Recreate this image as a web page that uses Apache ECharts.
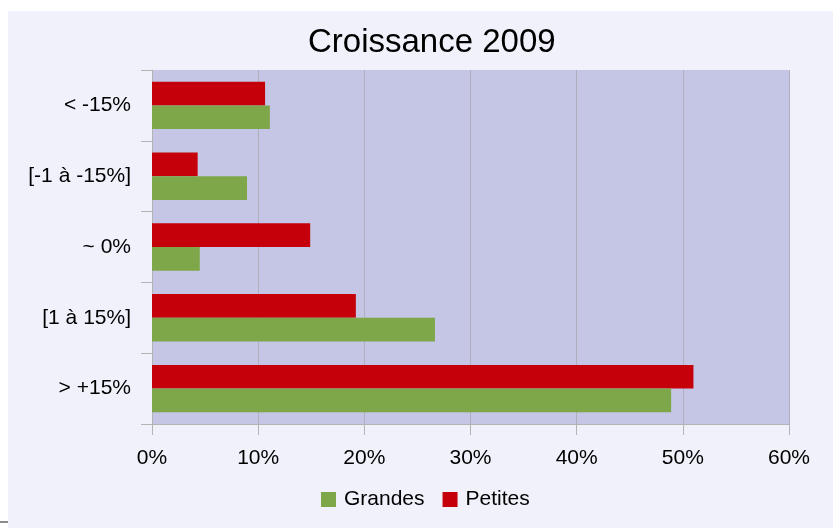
<!DOCTYPE html>
<html lang="fr">
<head>
<meta charset="UTF-8">
<title>Croissance 2009</title>
<style>
  html, body { margin: 0; padding: 0; background: #ffffff; }
  #chart { width: 833px; height: 528px; }
</style>
<script src="https://cdn.jsdelivr.net/npm/echarts@6/dist/echarts.min.js"></script>
</head>
<body>
<div id="chart"></div>
<script>
// categories, top to bottom
var categories = ['< -15%', '[-1 à -15%]', '~ 0%', '[1 à 15%]', '> +15%'];
// values in %
var grandes = [11.1, 8.95, 4.5, 26.65, 48.9];
var petites = [10.65, 4.3, 14.9, 19.2, 51.0];

var dom = document.getElementById('chart');
var myChart = echarts.init(dom);

var font = '"Liberation Sans", Arial, sans-serif';

var option = {
    backgroundColor: '#ffffff',
    animation: false,
    graphic: [
        {   // chart body
            type: 'rect', z: -10, silent: true,
            shape: { x: 8, y: 11, width: 825, height: 517 },
            style: { fill: '#f1f1fc' }
        },
        {   // little grey mark bottom left
            type: 'rect', z: -10, silent: true,
            shape: { x: 0, y: 521, width: 8, height: 2 },
            style: { fill: '#8c8c8c' }
        }
    ],
    title: {
        text: 'Croissance 2009',
        left: 303,
        top: 21,
        textStyle: { fontFamily: font, fontSize: 33, fontWeight: 'normal', color: '#000000' }
    },
    legend: {
        data: ['Grandes', 'Petites'],
        bottom: 13,
        left: 316,
        icon: 'rect',
        itemWidth: 15,
        itemHeight: 15,
        itemGap: 18,
        textStyle: { fontFamily: font, fontSize: 21, color: '#000000', padding: [0, 0, 0, 3] }
    },
    grid: {
        left: 152,
        right: 44,
        top: 70,
        bottom: 104,
        show: true,
        backgroundColor: '#c5c6e6',
        borderWidth: 0
    },
    xAxis: {
        type: 'value',
        min: 0,
        max: 60,
        interval: 10,
        axisLine: { show: true, lineStyle: { color: '#b4b4b4', width: 1 } },
        axisTick: { show: true, length: 11, lineStyle: { color: '#b4b4b4' } },
        splitLine: { show: true, lineStyle: { color: '#b0b0bc', width: 1 } },
        axisLabel: {
            margin: 24,
            fontFamily: font, fontSize: 21, color: '#000000',
            formatter: '{value}%'
        }
    },
    yAxis: {
        type: 'category',
        data: categories,
        inverse: true,
        axisLine: { show: true, lineStyle: { color: '#b4b4b4', width: 1 } },
        axisTick: { show: true, length: 11, lineStyle: { color: '#b4b4b4' } },
        axisLabel: { margin: 21, fontFamily: font, fontSize: 21, color: '#000000' }
    },
    series: [
        {
            name: 'Petites',
            type: 'bar',
            data: petites,
            barGap: '0%',
            barCategoryGap: '33%',
            itemStyle: { color: '#c6000b' }
        },
        {
            name: 'Grandes',
            type: 'bar',
            data: grandes,
            barGap: '0%',
            barCategoryGap: '33%',
            itemStyle: { color: '#7ea749' }
        }
    ]
};

if (option && typeof option === 'object') {
    myChart.setOption(option, true);
}
</script>
</body>
</html>
